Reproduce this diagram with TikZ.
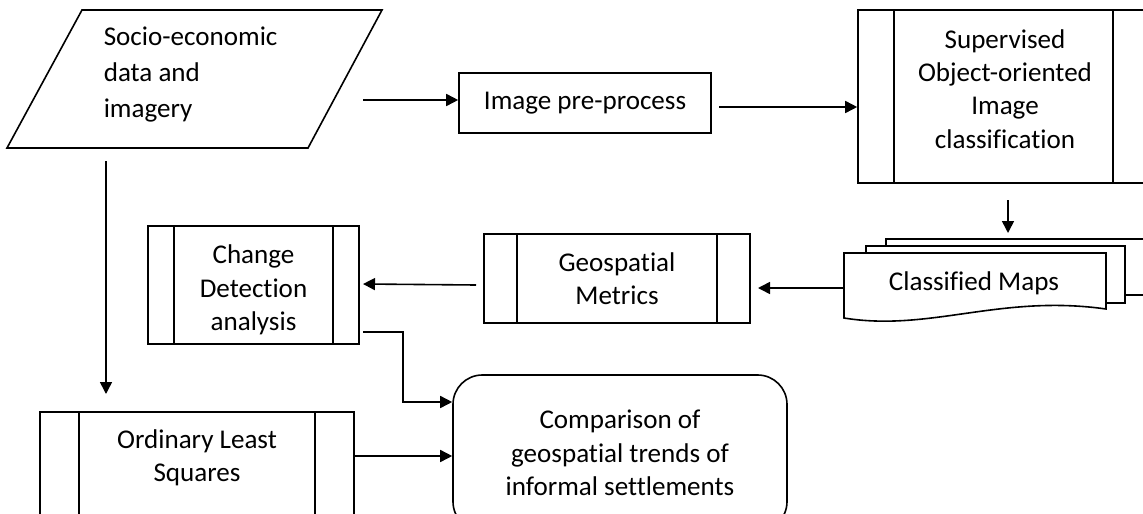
\documentclass[tikz,border=0pt]{standalone}
\usepackage{fontspec}
\setmainfont{Carlito}[Ligatures=NoCommon]
\usetikzlibrary{arrows.meta}
\begin{document}
\begin{tikzpicture}[x=0.75pt,y=-0.75pt, line width=1.2pt,
  font=\fontsize{20.3pt}{25pt}\selectfont,
  box/.style 2 args={draw, minimum width=#1*0.75pt, minimum height=#2*0.75pt, inner sep=0pt, align=center},
  txt/.style={align=center, inner sep=0pt},
  arr/.style={-{Triangle[length=9pt,width=9pt]}},
  doc/.style={draw, fill=white}]
\useasboundingbox (0,0) rectangle (1143,514);
\clip (0,0) rectangle (1143,514);

% input parallelogram
\draw (82,10) -- (382,10) -- (308,148) -- (7,148) -- cycle;
\node[align=left, anchor=west, inner sep=0pt, font=\fontsize{20.3pt}{27pt}\selectfont] (para) at (103,75) {Socio-economic\\data and\\imagery};

% process boxes
\node[box={252}{60}] (pre) at (585,103) {Image pre-process};
\node[box={291}{173}] (sup) at (1003.5,96.5) {};
\node[txt] (supt) at (1005,89) {Supervised\\Object-oriented\\Image\\classification};
\node[box={211}{118}] (chg) at (253.5,285) {};
\node[txt] (chgt) at (253.5,290) {Change\\Detection\\analysis};
\node[box={266}{89}] (geo) at (617,278.5) {Geospatial\\Metrics};
\node[box={314}{124}] (ols) at (197,474) {};
\node[txt] (olst) at (197,458) {Ordinary Least\\Squares};
\node[box={334}{156}, rounded corners=22pt] (cmp) at (620,453) {Comparison of\\geospatial trends of\\informal settlements};

% predefined-process side bars
\newcommand{\ppbars}[2]{%
  \draw ([xshift=#2*0.75pt]#1.north west) -- ([xshift=#2*0.75pt]#1.south west);
  \draw ([xshift=-#2*0.75pt]#1.north east) -- ([xshift=-#2*0.75pt]#1.south east);}
\ppbars{sup}{37}
\ppbars{chg}{27}
\ppbars{geo}{34}
\ppbars{ols}{40}

% multi-document
\draw[doc] (886,239) rectangle (1160,295);
\draw[doc] (866,246) rectangle (1125,303);
\draw[doc] (844,253) -- (1106,253) -- (1106,309) .. controls (1000,294) and (930,332) .. (844,318) -- cycle;
\node (cls) at (974,283) {Classified Maps};

% connectors
\coordinate (a1s) at (363,100);
\draw[arr] (a1s) -- (pre.west |- a1s);
\coordinate (a2s) at (719,107);
\draw[arr] (a2s) -- (sup.west |- a2s);
\coordinate (a3s) at (1008,200);
\coordinate (a3e) at (1008,233);
\draw[arr] (a3s) -- (a3e);
\coordinate (a4s) at (844,288);
\coordinate (a4e) at (758,288);
\draw[arr] (a4s) -- (a4e);
\coordinate (a5s) at (476,285);
\coordinate (a5e) at (363,284);
\draw[arr] (a5s) -- (a5e);
\coordinate (a6s) at (363,332);
\draw[arr] (a6s) -- ++(40,0) |- ([yshift=38.25pt]cmp.west);
\coordinate (a7s) at (106,161);
\coordinate (a7e) at (106,394);
\draw[arr] (a7s) -- (a7e);
\coordinate (a8s) at (355,456);
\draw[arr] (a8s) -- (cmp.west |- a8s);
\end{tikzpicture}
\end{document}
